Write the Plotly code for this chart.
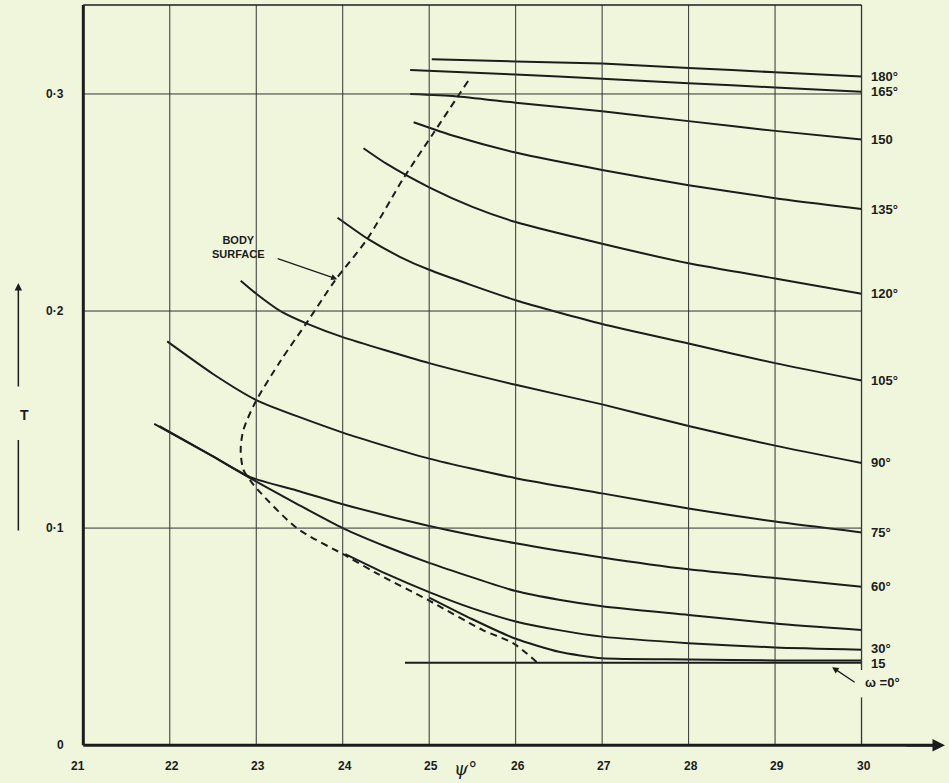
import plotly.graph_objects as go

# ---------------- data ----------------
psi_ticks = [21, 22, 23, 24, 25, 26, 27, 28, 29, 30]
T_ticks = [0, 0.1, 0.2, 0.3]
T_tick_text = ["0", "0·1", "0·2", "0·3"]
grid_psi = [22, 23, 24, 25, 26, 27, 28, 29]
grid_T = [0.1, 0.2, 0.3]

psi_180 = [25.03, 26, 27, 28, 29, 30]
T_180 = [0.316, 0.315, 0.314, 0.312, 0.310, 0.308]

psi_165 = [24.78, 26, 27, 28, 29, 30]
T_165 = [0.311, 0.309, 0.307, 0.305, 0.303, 0.301]

psi_150 = [24.78, 25.3, 26, 27, 28, 29, 30]
T_150 = [0.300, 0.299, 0.296, 0.292, 0.2875, 0.283, 0.279]

psi_135 = [24.82, 25.3, 26, 27, 28, 29, 30]
T_135 = [0.287, 0.2805, 0.273, 0.265, 0.258, 0.252, 0.247]

psi_120 = [24.24, 24.5, 25.0, 25.5, 26, 27, 28, 29, 30]
T_120 = [0.275, 0.268, 0.257, 0.248, 0.241, 0.231, 0.222, 0.215, 0.208]

psi_105 = [23.94, 24.3, 24.66, 25, 26, 27, 28, 29, 30]
T_105 = [0.243, 0.233, 0.225, 0.219, 0.205, 0.194, 0.185, 0.176, 0.168]

psi_90 = [22.82, 23.0, 23.28, 23.6, 24.0, 25, 26, 27, 28, 29, 30]
T_90 = [0.214, 0.208, 0.200, 0.194, 0.188, 0.176, 0.166, 0.157, 0.147, 0.138, 0.130]

psi_75 = [21.97, 22.5, 23.0, 24.0, 25.0, 26.0, 27, 28, 29, 30]
T_75 = [0.186, 0.171, 0.159, 0.144, 0.132, 0.123, 0.116, 0.109, 0.103, 0.098]

psi_60 = [21.82, 22.5, 22.93, 23.5, 24.0, 25.0, 26.0, 27, 28, 29, 30]
T_60 = [0.148, 0.133, 0.1235, 0.117, 0.111, 0.101, 0.093, 0.0865, 0.081, 0.077, 0.073]

psi_45 = [21.88, 22.5, 22.93, 23.5, 24.0, 24.5, 25.0, 26.0, 26.5, 27, 28, 29, 30]
T_45 = [0.147, 0.133, 0.123, 0.1105, 0.100, 0.0915, 0.084, 0.071, 0.067, 0.064, 0.060, 0.056, 0.053]

psi_30 = [24.03, 24.5, 25.0, 25.5, 26.0, 26.5, 27, 28, 29, 30]
T_30 = [0.088, 0.079, 0.0705, 0.063, 0.057, 0.053, 0.050, 0.047, 0.045, 0.044]

psi_15 = [25.0, 25.5, 26.0, 26.5, 27, 28, 29, 30]
T_15 = [0.068, 0.058, 0.049, 0.043, 0.040, 0.0395, 0.039, 0.039]

psi_0 = [24.72, 30]
T_0 = [0.038, 0.038]

body_psi = [25.45, 25.05, 24.70, 24.28, 23.91, 23.59, 23.28, 22.99, 22.85, 22.82,
            22.85, 22.93, 23.01, 23.47, 24.05, 24.40, 24.98, 25.62, 25.97, 26.25]
body_T = [0.306, 0.282, 0.261, 0.233, 0.214, 0.195, 0.177, 0.158, 0.145, 0.136,
          0.127, 0.122, 0.118, 0.100, 0.087, 0.079, 0.067, 0.053, 0.047, 0.038]

curve_labels = ["180°", "165°", "150", "135°", "120°", "105°", "90°", "75°", "60°", None, "30°", "15", None]

# ---------------- figure ----------------
BG = "#eff6dc"
INK = "#1c1c1c"
GRID = "#333333"
FONT = "Liberation Sans"

X0, X1 = 20.95, 31.0
Y0, Y1 = -0.005, 0.3433
TOP = 0.341

fig = go.Figure()

curves = [(psi_180, T_180), (psi_165, T_165), (psi_150, T_150), (psi_135, T_135),
          (psi_120, T_120), (psi_105, T_105), (psi_90, T_90), (psi_75, T_75),
          (psi_60, T_60), (psi_45, T_45), (psi_30, T_30), (psi_15, T_15), (psi_0, T_0)]

for (px, ty) in curves:
    fig.add_trace(go.Scatter(x=px, y=ty, mode="lines",
                             line=dict(color=INK, width=2, shape="spline", smoothing=0.6),
                             hoverinfo="skip", showlegend=False))

fig.add_trace(go.Scatter(x=body_psi, y=body_T, mode="lines",
                         line=dict(color=INK, width=2, dash="7px,5px", shape="spline", smoothing=0.8),
                         hoverinfo="skip", showlegend=False))

shapes = []
for g in grid_psi:
    shapes.append(dict(type="line", xref="x", yref="y", x0=g, x1=g, y0=0, y1=TOP,
                       line=dict(color=GRID, width=1)))
shapes.append(dict(type="line", xref="x", yref="y", x0=psi_ticks[-1], x1=psi_ticks[-1],
                   y0=0.0346, y1=TOP, line=dict(color=GRID, width=1.3)))
shapes.append(dict(type="line", xref="x", yref="y", x0=psi_ticks[-1], x1=psi_ticks[-1],
                   y0=0, y1=0.022, line=dict(color=GRID, width=1.3)))
for g in grid_T:
    shapes.append(dict(type="line", xref="x", yref="y", x0=psi_ticks[0], x1=psi_ticks[-1], y0=g, y1=g,
                       line=dict(color=GRID, width=1)))
shapes.append(dict(type="line", xref="x", yref="y", x0=psi_ticks[0], x1=psi_ticks[-1], y0=TOP, y1=TOP,
                   line=dict(color=INK, width=1.5)))
shapes.append(dict(type="line", xref="x", yref="y", x0=psi_ticks[0], x1=psi_ticks[0], y0=0, y1=TOP,
                   line=dict(color=INK, width=3)))
shapes.append(dict(type="line", xref="x", yref="y", x0=psi_ticks[0], x1=30.9, y0=0, y1=0,
                   line=dict(color=INK, width=3)))

ann = []
tick_font = dict(family=FONT, size=12, color=INK)
for v in psi_ticks:
    ann.append(dict(x=v, y=0, xref="x", yref="paper", text=f"<b>{v}</b>", showarrow=False,
                    yanchor="middle", yshift=-10, xshift=(-5 if v == psi_ticks[0] else 2),
                    font=tick_font))
for v, t in zip(T_ticks, T_tick_text):
    ann.append(dict(x=0, y=v, xref="paper", yref="y", text=f"<b>{t}</b>", showarrow=False,
                    xanchor="right", xshift=-13, font=tick_font))

for (px, ty), lab in zip(curves, curve_labels):
    if lab is None:
        continue
    ys = -3 if lab == "15" else (1 if lab == "30°" else 0)
    ann.append(dict(x=px[-1], y=ty[-1], xref="x", yref="y", text=f"<b>{lab}</b>", showarrow=False,
                    xanchor="left", xshift=7, yshift=ys, font=dict(family=FONT, size=13, color=INK)))

ann.append(dict(x=psi_0[-1], y=0.029, xref="x", yref="y", text="<b>ω =0°</b>", showarrow=False,
                xanchor="left", xshift=1, font=dict(family=FONT, size=13, color=INK)))
ann.append(dict(x=29.66, y=0.0359, xref="x", yref="y", text="", showarrow=True,
                ax=24, ay=16, arrowhead=2, arrowsize=1, arrowwidth=1.3, arrowcolor=INK))

ann.append(dict(x=22.79, y=0.2295, xref="x", yref="y", text="<b>BODY<br>SURFACE</b>", showarrow=False,
                font=dict(family=FONT, size=11, color=INK), align="center"))
ann.append(dict(x=23.936, y=0.2147, xref="x", yref="y", ax=23.231, ay=0.2244, axref="x", ayref="y",
                text="", showarrow=True, arrowhead=2, arrowsize=1, arrowwidth=1.2, arrowcolor=INK))

ann.append(dict(x=30.965, y=0, xref="x", yref="y", ax=30.5, ay=0, axref="x", ayref="y",
                text="", showarrow=True, arrowhead=2, arrowsize=1, arrowwidth=2.5, arrowcolor=INK))

ann.append(dict(x=25.42, y=0, xref="x", yref="paper", text="<i>ψ</i>°", showarrow=False,
                yanchor="middle", yshift=-12, font=dict(family="DejaVu Serif", size=18, color=INK)))
ann.append(dict(x=-0.0698, y=(755.85 - 415) / 755.85, xref="paper", yref="paper",
                text="<b>T</b>", showarrow=False, font=dict(family=FONT, size=14, color=INK)))
ann.append(dict(x=-0.0698, y=(755.85 - 283) / 755.85, xref="paper", yref="paper", text="",
                showarrow=True, ax=0, ay=105, arrowhead=2, arrowsize=1, arrowwidth=1.5, arrowcolor=INK))
ann.append(dict(x=-0.0698, y=(755.85 - 440) / 755.85, xref="paper", yref="paper", text="",
                showarrow=True, ax=0, ay=92, arrowhead=0, arrowwidth=1.5, arrowcolor=INK))

fig.update_layout(
    width=949, height=783,
    margin=dict(l=78.7, r=1, t=0, b=27.15),
    paper_bgcolor=BG, plot_bgcolor=BG,
    xaxis=dict(range=[X0, X1], showgrid=False, zeroline=False, showticklabels=False, ticks="",
               showline=False),
    yaxis=dict(range=[Y0, Y1], showgrid=False, zeroline=False, showticklabels=False, ticks="",
               showline=False),
    shapes=shapes, annotations=ann, showlegend=False,
)

fig.write_html("out.html")
